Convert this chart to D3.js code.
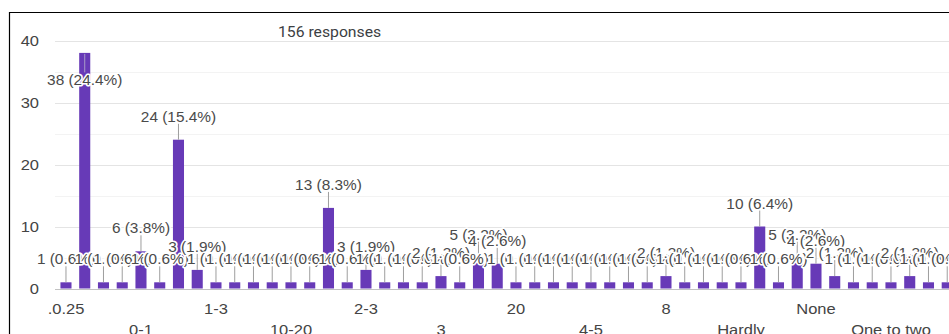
<!DOCTYPE html>
<html>
<head>
<meta charset="utf-8">
<script src="https://cdn.jsdelivr.net/npm/d3@7"></script>
<style>
  html, body { margin: 0; padding: 0; background: #fff; }
  svg { display: block; }
  text { font-family: Arial, "Liberation Sans", sans-serif; }
</style>
</head>
<body>
<svg id="chart" width="949" height="334"></svg>
<script>
// Response counts per answer, in the order the answers are listed
const counts = [
  1, 38, 1, 1, 6, 1, 24, 3,
  1, 1, 1, 1, 1, 1, 13, 1,
  3, 1, 1, 1, 2, 1, 5, 4,
  1, 1, 1, 1, 1, 1, 1, 1,
  2, 1, 1, 1, 1, 10, 1, 5,
  4, 2, 1, 1, 1, 2, 1, 1
];
// Answer labels printed on the axis (every fourth answer)
const axisLabels = [".0.25", "0-1", "1-3", "10-20", "2-3", "3", "20", "4-5", "8", "Hardly", "None", "One to two"];
const labelEvery = 4;
const yTicks = [0, 10, 20, 30, 40];
const yMinor = [5, 15, 25, 35];

const total = d3.sum(counts);
const svg = d3.select("#chart");
const W = 949, H = 334;
const stretch = "scale(1.1,1)";

// frame
svg.append("line").attr("x1", 9).attr("x2", W).attr("y1", 12.5).attr("y2", 12.5)
  .attr("stroke", "#000").attr("stroke-width", 1.2);
svg.append("line").attr("x1", 9.5).attr("x2", 9.5).attr("y1", 12).attr("y2", H)
  .attr("stroke", "#000").attr("stroke-width", 1.2);

// response count
svg.append("text")
  .attr("transform", `translate(278,36.5) scale(1.05,1)`)
  .style("font-family", "Roboto, Arial, sans-serif")
  .style("font-size", "15px")
  .attr("fill", "#3c4043")
  .text(`${total} responses`);

const y = d3.scaleLinear().domain([0, 40]).range([288.5, 40.5]);
const x = d3.scaleBand().domain(d3.range(counts.length))
  .range([56.6, 956.6]).paddingInner(0.41).paddingOuter(0.205);

const plotLeft = 55;

// gridlines
svg.append("g").selectAll("line").data(yMinor).join("line")
  .attr("x1", plotLeft).attr("x2", W)
  .attr("y1", d => Math.round(y(d)) + 0.5).attr("y2", d => Math.round(y(d)) + 0.5)
  .attr("stroke", "#f3f3f3");
svg.append("g").selectAll("line").data(yTicks.filter(d => d > 0)).join("line")
  .attr("x1", plotLeft).attr("x2", W)
  .attr("y1", d => Math.round(y(d)) + 0.5).attr("y2", d => Math.round(y(d)) + 0.5)
  .attr("stroke", "#e4e4e4");

// y axis labels
const yAxis = svg.append("g").attr("transform", `translate(39,0)`)
  .call(d3.axisLeft(y).tickValues(yTicks).tickSize(0).tickPadding(0));
yAxis.select(".domain").remove();
yAxis.selectAll("text")
  .attr("x", 0).attr("dy", "0.36em")
  .attr("transform", stretch)
  .style("font-size", "15px").style("font-family", "Arial, 'Liberation Sans', sans-serif")
  .attr("fill", "#444");

// bars
svg.append("g").selectAll("rect").data(counts).join("rect")
  .attr("x", (d, i) => x(i))
  .attr("width", x.bandwidth())
  .attr("y", d => y(d))
  .attr("height", d => y(0) - y(d))
  .attr("fill", "#673ab7");

// baseline
svg.append("line").attr("x1", plotLeft).attr("x2", W)
  .attr("y1", Math.round(y(0)) + 0.5).attr("y2", Math.round(y(0)) + 0.5)
  .attr("stroke", "#c2c2c2");

// x axis labels, alternating between two rows
const xAxis = svg.append("g").attr("transform", `translate(0,${y(0)})`)
  .call(d3.axisBottom(x)
    .tickValues(d3.range(0, counts.length, labelEvery))
    .tickFormat(i => axisLabels[i / labelEvery])
    .tickSize(0));
xAxis.select(".domain").remove();
xAxis.selectAll("text")
  .attr("y", (d, k) => (k % 2 === 0 ? 25.5 : 46.5))
  .attr("dy", 0)
  .attr("transform", stretch)
  .style("font-size", "15px").style("font-family", "Arial, 'Liberation Sans', sans-serif")
  .attr("fill", "#444");

// value annotations with stems
const ann = counts.map((v, i) => {
  const top = y(v);
  const cx = x(i) + x.bandwidth() / 2;
  const inside = top - 30 < y.range()[1];
  const cy = inside ? top + 27.5 : top - 23;
  return { v, cx, top, cy, inside };
});

svg.append("g").selectAll("line").data(ann).join("line")
  .attr("x1", d => d.cx).attr("x2", d => d.cx)
  .attr("y1", d => d.inside ? d.top + 1 : d.cy + 7)
  .attr("y2", d => d.inside ? d.cy - 8 : d.top)
  .attr("stroke", d => d.inside ? "#a89cc8" : "#9e9e9e")
  .attr("stroke-width", 1);

svg.append("g").selectAll("text").data(ann).join("text")
  .attr("transform", d => `translate(${d.cx},${d.cy + 5}) ${stretch}`)
  .attr("text-anchor", "middle")
  .style("font-size", "14px")
  .attr("fill", "#4a4a4a")
  .attr("stroke", "#fff").attr("stroke-width", 3).attr("stroke-linejoin", "round")
  .style("paint-order", "stroke")
  .text(d => `${d.v} (${(d.v / total * 100).toFixed(1)}%)`);
</script>
</body>
</html>
